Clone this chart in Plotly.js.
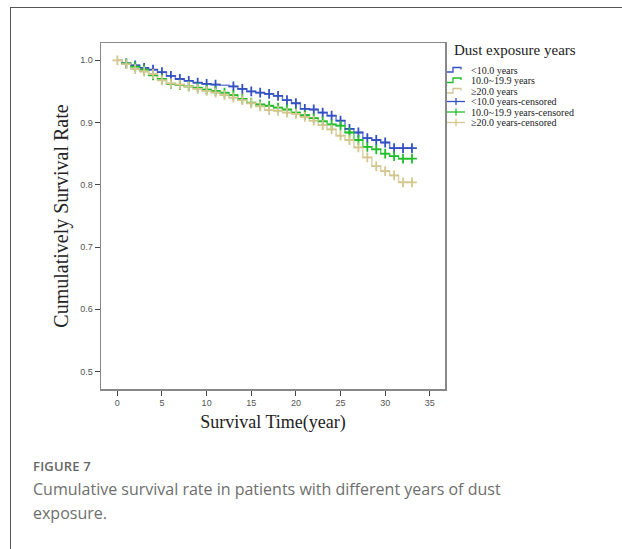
<!DOCTYPE html>
<html>
<head>
<meta charset="utf-8">
<script src="https://cdn.plot.ly/plotly-3.0.1.min.js"></script>
<style>
  html, body { margin:0; padding:0; background:#fff; }
  #wrap { position:relative; width:622px; height:549px; overflow:hidden; background:#fff; }
  #frameTop { position:absolute; left:10px; top:7px; width:612px; height:0; border-top:1px solid #555; }
  #frameLeft { position:absolute; left:10px; top:7px; width:0; height:542px; border-left:1px solid #555; }
  #chart { position:absolute; left:0; top:0; width:622px; height:549px; }
  #cap { position:absolute; left:33px; top:456px; width:580px; font-family:"Open Sans", "Noto Sans", sans-serif; color:#6e6e6e; }
  #cap .fig { font-size:13px; font-weight:600; letter-spacing:0.2px; color:#666; line-height:20px; }
  #cap .txt { font-size:16px; line-height:24px; margin-top:1px; }
</style>
</head>
<body>
<div id="wrap">
  <div id="frameTop"></div>
  <div id="frameLeft"></div>
  <div id="chart"></div>
  <div id="cap">
    <div class="fig">FIGURE 7</div>
    <div class="txt">Cumulative survival rate in patients with different years of dust<br>exposure.</div>
  </div>
</div>
<script>
// ---- data ----
const groupNames = ["<10.0 years", "10.0~19.9 years", "\u226520.0 years"];
const censorNames = ["<10.0 years-censored", "10.0~19.9 years-censored", "\u226520.0 years-censored"];
const legendTitle = "Dust exposure years";
const xTitle = "Survival Time(year)";
const yTitle = "Cumulatively Survival Rate";

// times (years) at which the survival curves step down
const eventTimes = [0.5,1.5,2.5,3.5,4.5,5.5,6.5,7.5,8.5,9.5,10.5,11.5,12.5,13.5,14.5,15.5,16.5,
                    17.5,18.5,19.5,20.5,21.5,22.5,23.5,24.5,25.5,26.5,27.5,28.5,29.5,30.5,31.5,32.5];
const endTime = 33;

const survLt10 = [0.995,0.992,0.988,0.985,0.981,0.975,0.970,0.967,0.964,0.962,0.961,0.960,0.958,0.954,0.950,0.948,0.946,
                  0.943,0.936,0.931,0.922,0.921,0.916,0.911,0.903,0.890,0.884,0.875,0.872,0.868,0.859,0.859,0.859];
const surv10to19 = [0.995,0.990,0.985,0.976,0.970,0.962,0.960,0.958,0.956,0.953,0.951,0.948,0.944,0.938,0.932,0.929,0.927,
                    0.924,0.921,0.916,0.912,0.907,0.902,0.897,0.895,0.884,0.872,0.861,0.857,0.850,0.846,0.842,0.842];
const survGe20 = [0.994,0.986,0.982,0.978,0.968,0.963,0.961,0.958,0.954,0.951,0.948,0.944,0.940,0.936,0.931,0.926,0.920,
                  0.919,0.916,0.914,0.909,0.903,0.896,0.889,0.879,0.872,0.860,0.844,0.830,0.822,0.815,0.804,0.804];

// censoring times (years)
const censLt10 = [1,2,3,4,5,6,7,8,9,10,11,13,14,15,16,17,18,19,20,21,22,23,24,25,26,27,28,29,30,31,32,33];
const cens10to19 = [1,2,3,4,5,6,7,8,9,10,11,12,13,14,15,16,17,18,19,20,21,22,23,24,25,26,27,28,29,30,31,32,33];
const censGe20 = [0,1,2,3,4,5,6,7,8,9,10,11,12,13,14,15,16,17,18,19,20,21,22,23,24,25,26,27,28,29,30,31,32,33];

const xTicks = [0,5,10,15,20,25,30,35];
const yTicks = [0.5,0.6,0.7,0.8,0.9,1.0];

// ---- styles ----
const lineColors = ["#6f86d8", "#5ccf5f", "#ddd3a6"];
const markColors = ["#3451c2", "#22bd2b", "#d3c68f"];

function survAt(t, surv) {
  let s = 1;
  for (let i = 0; i < eventTimes.length; i++) { if (eventTimes[i] <= t) s = surv[i]; }
  return s;
}

const survs = [survLt10, surv10to19, survGe20];
const cens = [censLt10, cens10to19, censGe20];
const traces = [];
for (let g = 0; g < 3; g++) {
  traces.push({
    x: [0].concat(eventTimes, [endTime]),
    y: [1].concat(survs[g], [survs[g][survs[g].length - 1]]),
    type: "scatter", mode: "lines", line: {shape: "hv", color: lineColors[g], width: 1.5},
    name: groupNames[g], showlegend: false, hoverinfo: "skip"
  });
}
for (let g = 0; g < 3; g++) {
  traces.push({
    x: cens[g], y: cens[g].map(t => survAt(t, survs[g])),
    type: "scatter", mode: "markers",
    marker: {symbol: "cross-thin", size: 7, line: {color: markColors[g], width: 1.8}, color: markColors[g]},
    name: censorNames[g], showlegend: false, hoverinfo: "skip"
  });
}

// ---- pixel helpers for manual legend ----
const L = 101, R = 445, T = 43, B = 389;
const px = v => (v - L) / (R - L);
const py = v => (B - v) / (B - T);

const annotations = [];
const shapes = [];
annotations.push({xref: "paper", yref: "paper", x: px(452), y: py(50), xanchor: "left", yanchor: "middle",
  text: legendTitle, showarrow: false, font: {family: "Liberation Serif, Times New Roman, serif", size: 15, color: "#222"}});
const legendNames = groupNames.concat(censorNames);
const rowY = [70, 80.5, 91, 101.5, 112, 122.5];
for (let i = 0; i < 6; i++) {
  annotations.push({xref: "paper", yref: "paper", x: px(470), y: py(rowY[i]), xanchor: "left", yanchor: "middle",
    text: legendNames[i], showarrow: false, borderpad: 0,
    font: {family: "Liberation Serif, Times New Roman, serif", size: 10, color: "#222"}});
  const c = i < 3 ? lineColors[i] : markColors[i - 3];
  if (i < 3) {
    const y0 = rowY[i] + 2, y1 = rowY[i] - 2.5;
    shapes.push({type: "path", xref: "paper", yref: "paper",
      path: `M ${px(447)} ${py(y0)} L ${px(453)} ${py(y0)} L ${px(453)} ${py(y1)} L ${px(461)} ${py(y1)} L ${px(461)} ${py(y1 + 2)}`,
      line: {color: markColors[i], width: 1.3}});
  } else {
    shapes.push({type: "line", xref: "paper", yref: "paper", x0: px(447), x1: px(465), y0: py(rowY[i]), y1: py(rowY[i]),
      line: {color: c, width: 1.3}});
    shapes.push({type: "line", xref: "paper", yref: "paper", x0: px(456), x1: px(456), y0: py(rowY[i] - 3.5), y1: py(rowY[i] + 3.5),
      line: {color: c, width: 1.3}});
  }
}

const tickFont = {family: "Liberation Sans, Arial, sans-serif", size: 9, color: "#555"};
const layout = {
  width: 622, height: 549,
  margin: {l: L, r: 622 - R, t: T, b: 549 - B, pad: 0},
  paper_bgcolor: "rgba(0,0,0,0)", plot_bgcolor: "#fff",
  showlegend: false,
  xaxis: {
    range: [-1.83, 36.7], tickvals: xTicks, ticks: "outside", ticklen: 5, tickcolor: "#444", tickwidth: 1,
    showline: true, linecolor: "#888", linewidth: 1.5, mirror: true, showgrid: false, zeroline: false,
    tickfont: tickFont,
    title: {text: xTitle, font: {family: "Liberation Serif, Times New Roman, serif", size: 18, color: "#222"}, standoff: 8}
  },
  yaxis: {
    range: [0.472, 1.0278], tickvals: yTicks, tickformat: ".1f", ticks: "outside", ticklen: 5, tickcolor: "#444", tickwidth: 1,
    showline: true, linecolor: "#888", linewidth: 1.5, mirror: true, showgrid: false, zeroline: false,
    tickfont: tickFont,
    title: {text: yTitle, font: {family: "Liberation Serif, Times New Roman, serif", size: 20, color: "#222"}, standoff: 6}
  },
  annotations: annotations,
  shapes: shapes
};

Plotly.newPlot("chart", traces, layout, {displayModeBar: false, staticPlot: true});
</script>
</body>
</html>
